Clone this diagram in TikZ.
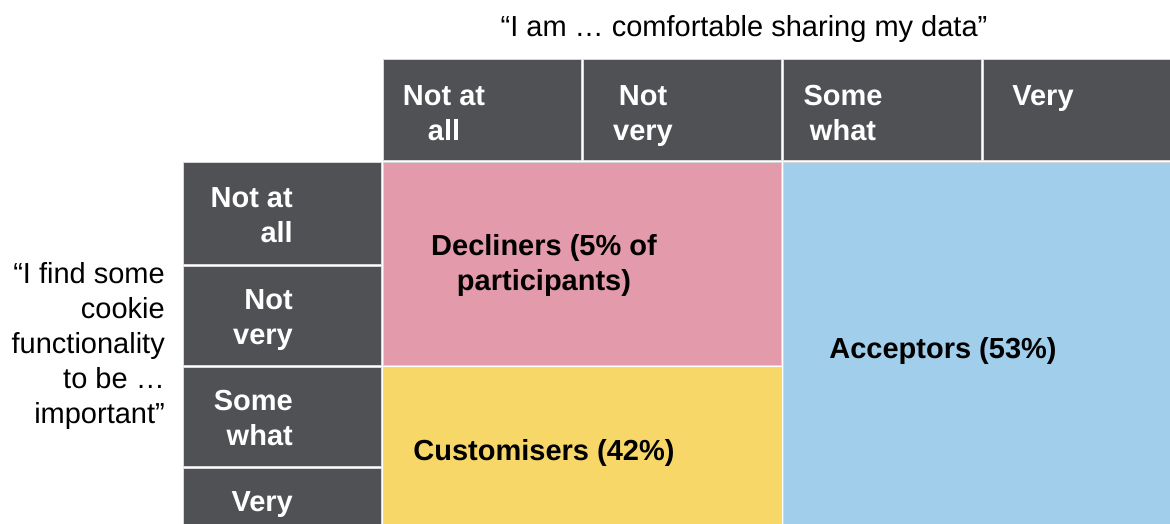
\documentclass[tikz,border=0pt]{standalone}
\usepackage{fontspec}
\setmainfont{Liberation Sans}
\definecolor{hdr}{RGB}{80,81,85}
\definecolor{rosepink}{RGB}{227,154,170}
\definecolor{sunyellow}{RGB}{248,215,105}
\definecolor{skyblue}{RGB}{160,206,235}
\definecolor{rule}{RGB}{215,215,215}
\tikzset{
  cell/.style={draw=rule, line width=1pt},
  hcell/.style={cell, fill=hdr},
  htext/.style={text=white, font=\bfseries\fontsize{29}{35}\selectfont, inner sep=0pt},
  bodytext/.style={text=black, font=\bfseries\fontsize{29}{35}\selectfont, inner sep=0pt, align=center},
  quote/.style={text=black, font=\fontsize{29}{35}\selectfont, inner sep=0pt},
}
\begin{document}
\begin{tikzpicture}[x=1pt, y=-1pt]
\useasboundingbox (0,0) rectangle (1170,524);
\fill[white] (0,0) rectangle (1170,524);

% column headers
\draw[hcell] (383,60) rectangle (581,161);
\draw[hcell] (583,60) rectangle (781,161);
\draw[hcell] (783,60) rectangle (981,161);
\draw[hcell] (983,60) rectangle (1171,161);
% row headers
\draw[hcell] (183,163) rectangle (381,264);
\draw[hcell] (183,266) rectangle (381,365);
\draw[hcell] (183,367) rectangle (381,466);
\draw[hcell] (183,468) rectangle (381,525);
% segments
\draw[cell, fill=rosepink] (383,163) rectangle (781,365);
\draw[cell, fill=sunyellow] (383,367) rectangle (781,525);
\draw[cell, fill=skyblue] (783,163) rectangle (1171,525);

% header labels (base anchor sits on the last line)
\node[htext, align=center, anchor=base] (c1) at (444,141) {Not at\\all};
\node[htext, align=center, anchor=base] (c2) at (643,141) {Not\\very};
\node[htext, align=center, anchor=base] (c3) at (843,141) {Some\\what};
\node[htext, align=center, anchor=base] (c4) at (1043,106) {Very};

\node[htext, align=right, anchor=base east] (r1) at (293,242) {Not at\\all};
\node[htext, align=right, anchor=base east] (r2) at (293,344) {Not\\very};
\node[htext, align=right, anchor=base east] (r3) at (293,445) {Some\\what};
\node[htext, align=right, anchor=base east] (r4) at (293,511) {Very};

% segment labels
\node[bodytext, anchor=base] (dec) at (544,290) {Decliners (5\% of\\participants)};
\node[bodytext, anchor=base] (acc) at (943,358) {Acceptors (53\%)};
\node[bodytext, anchor=base] (cus) at (544,460) {Customisers (42\%)};

% axis statements
\node[quote, anchor=base] (top) at (744,37) {“I am … comfortable sharing my data”};
\node[quote, align=right, anchor=base east] (side) at (165,423) {“I find some\\cookie\\functionality\\to be …\\important”};
\end{tikzpicture}
\end{document}
